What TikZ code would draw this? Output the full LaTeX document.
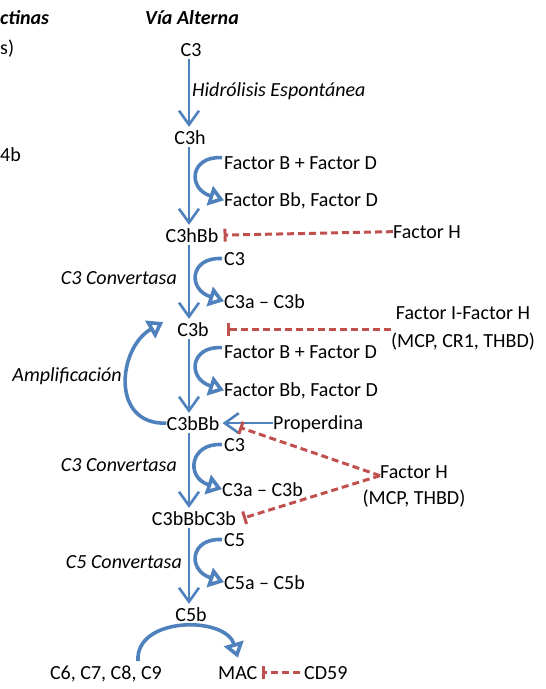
\documentclass[tikz,border=0pt]{standalone}
\usepackage{fontspec}
\setmainfont{Carlito}
\usetikzlibrary{arrows.meta}
\definecolor{flowblue}{HTML}{4F81BD}
\definecolor{stopred}{HTML}{C0504D}

\begin{document}
\begin{tikzpicture}[x=1pt, y=-1pt, every node/.style={font=\fontsize{20}{24}\selectfont, inner sep=0pt},
  flow/.style={flowblue, line width=2.6pt, shorten <=3pt, shorten >=3pt, -{Straight Barb[length=14pt,width=20pt]}},
  turn/.style={flowblue, line width=3.6pt, -{Triangle[open,length=15pt,width=20pt]}},
  block/.style={stopred, line width=3pt, dash pattern=on 7pt off 4pt, -{Bar[width=13pt]}}]
\useasboundingbox (0,0) rectangle (546,689);
\coordinate (spine) at (189,0);

\node[anchor=base west] (lect) at (0,24) {\bfseries\itshape ctinas};
\node[anchor=base west] (lectb) at (0,54) {s)};
\node[anchor=base west] (lectc) at (0,161) {4b};
\node[anchor=base] (via) at (192,24) {\bfseries\itshape Vía Alterna};

\node[anchor=base] (c3) at (191,56) {C3};
\node[anchor=base] (c3h) at (190,144) {C3h};
\node[anchor=base] (c3hbb) at (192,242) {C3hBb};
\node[anchor=base] (c3b) at (193,336) {C3b};
\node[anchor=base] (c3bbb) at (193,430) {C3bBb};
\node[anchor=base] (c3bbbc3b) at (194,525) {C3bBbC3b};
\node[anchor=base] (c5b) at (191,621) {C5b};
\node[anchor=base west] (mac) at (218,679) {MAC};
\node[anchor=base east] (c6) at (162,679) {C6, C7, C8, C9};
\node[anchor=base west] (cd59) at (304,679) {CD59};

\node[anchor=base west] (hidro) at (192,96) {\itshape Hidrólisis Espontánea};
\node[anchor=base east] (conva) at (177,284) {\itshape C3 Convertasa};
\node[anchor=base east] (ampl) at (122,381) {\itshape Amplificación};
\node[anchor=base east] (convb) at (177,471) {\itshape C3 Convertasa};
\node[anchor=base east] (convc) at (182,568) {\itshape C5 Convertasa};

\node[anchor=base west] (fbda) at (224,169) {Factor B + Factor D};
\node[anchor=base west] (fbbda) at (224,206) {Factor Bb, Factor D};
\node[anchor=base west] (c3sa) at (224,265) {C3};
\node[anchor=base west] (c3aba) at (224,308) {C3a – C3b};
\node[anchor=base west] (fbdb) at (224,358) {Factor B + Factor D};
\node[anchor=base west] (fbbdb) at (224,396) {Factor Bb, Factor D};
\node[anchor=base west] (c3sb) at (224,451) {C3};
\node[anchor=base west] (c3abb) at (222,496) {C3a – C3b};
\node[anchor=base west] (c5s) at (224,546) {C5};
\node[anchor=base west] (c5ab) at (224,589) {C5a – C5b};
\node[anchor=base west] (prop) at (273,429) {Properdina};

\node[anchor=base west] (fha) at (393,238) {Factor H};
\node[anchor=base] (fifh) at (463,319) {Factor I-Factor H};
\node[anchor=base] (mcpa) at (463,347) {(MCP, CR1, THBD)};
\node[anchor=base west] (fhb) at (380,478) {Factor H};
\node[anchor=base] (mcpb) at (414,504) {(MCP, THBD)};
\coordinate (fhv) at ([yshift=-4pt]fhb.west);

\draw[flow] (c3.south -| spine) -- (c3h.north -| spine);
\draw[flow] (c3h.south -| spine) -- (c3hbb.north -| spine);
\draw[flow] (c3hbb.south -| spine) -- (c3b.north -| spine);
\draw[flow] (c3b.south -| spine) -- (c3bbb.north -| spine);
\draw[flow] (c3bbb.south -| spine) -- (c3bbbc3b.north -| spine);
\draw[flow] (c3bbbc3b.south -| spine) -- (c5b.north -| spine);
\draw[flow, shorten <=0pt] (c3bbb.east -| prop.west) -- (c3bbb.east);

\draw[turn] ([shift={(-2,-5)}]fbda.west) .. controls +(-32,-2) and +(-37,-12) .. (fbbda.west);
\draw[turn] ([xshift=-2pt]c3sa.west) .. controls +(-32,-2) and +(-37,-12) .. (c3aba.west);
\draw[turn] ([shift={(-2,-4)}]fbdb.west) .. controls +(-32,-2) and +(-37,-12) .. (fbbdb.west);
\draw[turn] ([xshift=-2pt]c3sb.west) .. controls +(-32,-2) and +(-37,-12) .. (c3abb.west);
\draw[turn] ([xshift=-2pt]c5s.west) .. controls +(-32,-2) and +(-37,-12) .. (c5ab.west);
\draw[turn] (c3bbb.west) .. controls (110,425) and (118,348) .. ([shift={(-14,-7)}]c3b.west);
\draw[turn] ([shift={(-24,-4)}]c6.north east) .. controls +(-3,-45) and +(-12,-42) .. ([yshift=8pt]mac.north);

\draw[block] (fha.west) -- ([xshift=5pt]c3hbb.east);
\draw[block] (mcpa.west |- c3b.east) -- ([xshift=18pt]c3b.east);
\draw[block] (fhv) -- ([shift={(20,-3)}]c3bbb.south east);
\draw[block] (fhv) -- ([xshift=7pt]c3bbbc3b.east);
\draw[block] ([xshift=-4pt]cd59.west) -- ([xshift=4pt]mac.east);
\end{tikzpicture}
\end{document}
